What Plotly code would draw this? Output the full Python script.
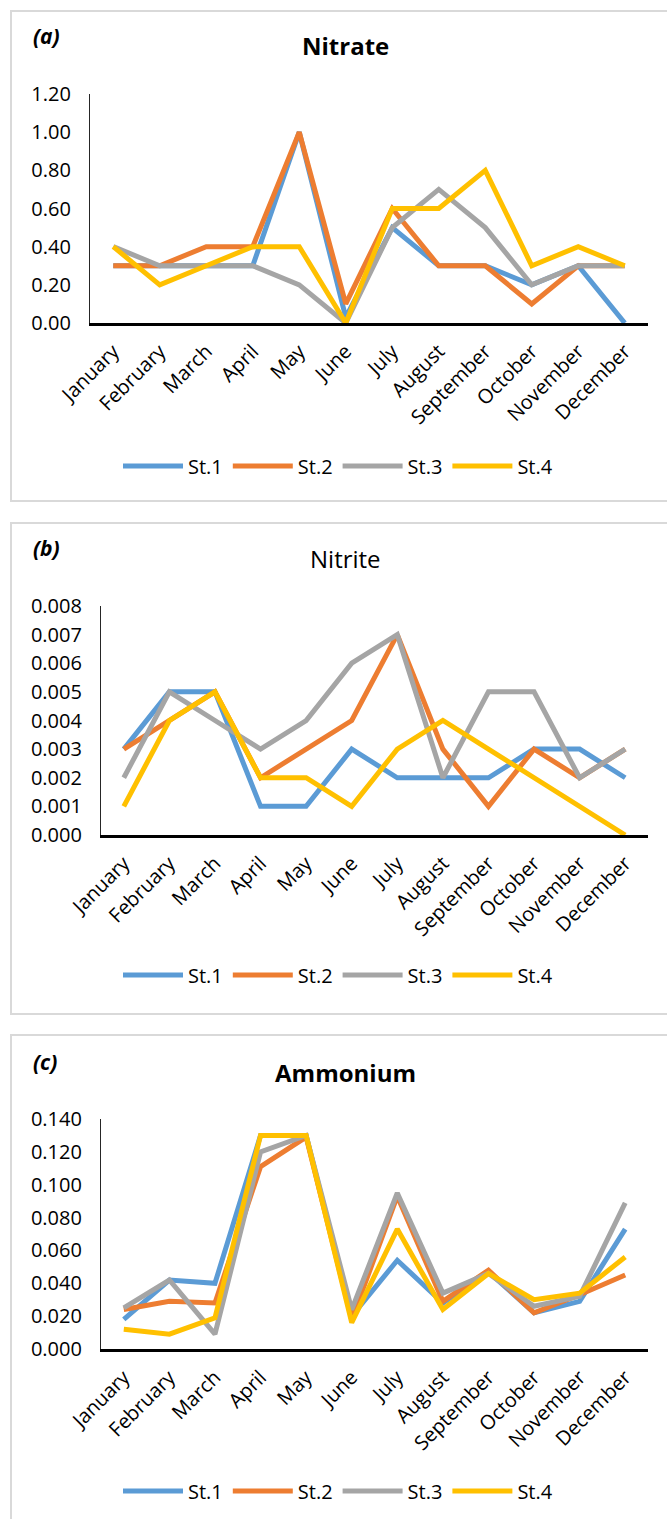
import plotly.graph_objects as go

W, H = 667, 1519

months = ["January", "February", "March", "April", "May", "June", "July",
          "August", "September", "October", "November", "December"]
stations = ["St.1", "St.2", "St.3", "St.4"]
colors = ["#5B9BD5", "#ED7D31", "#A5A5A5", "#FFC000"]

nitrate_st1 = [0.30, 0.30, 0.30, 0.30, 1.00, 0.03, 0.50, 0.30, 0.30, 0.20, 0.30, 0.00]
nitrate_st2 = [0.30, 0.30, 0.40, 0.40, 1.00, 0.10, 0.60, 0.30, 0.30, 0.10, 0.30, 0.30]
nitrate_st3 = [0.40, 0.30, 0.30, 0.30, 0.20, 0.00, 0.50, 0.70, 0.50, 0.20, 0.30, 0.30]
nitrate_st4 = [0.40, 0.20, 0.30, 0.40, 0.40, 0.00, 0.60, 0.60, 0.80, 0.30, 0.40, 0.30]

nitrite_st1 = [0.003, 0.005, 0.005, 0.001, 0.001, 0.003, 0.002, 0.002, 0.002, 0.003, 0.003, 0.002]
nitrite_st2 = [0.003, 0.004, 0.005, 0.002, 0.003, 0.004, 0.007, 0.003, 0.001, 0.003, 0.002, 0.003]
nitrite_st3 = [0.002, 0.005, 0.004, 0.003, 0.004, 0.006, 0.007, 0.002, 0.005, 0.005, 0.002, 0.003]
nitrite_st4 = [0.001, 0.004, 0.005, 0.002, 0.002, 0.001, 0.003, 0.004, 0.003, 0.002, 0.001, 0.000]

ammonium_st1 = [0.018, 0.042, 0.040, 0.130, 0.130, 0.020, 0.054, 0.028, 0.047, 0.022, 0.029, 0.073]
ammonium_st2 = [0.024, 0.029, 0.028, 0.111, 0.129, 0.018, 0.093, 0.029, 0.048, 0.022, 0.033, 0.045]
ammonium_st3 = [0.025, 0.042, 0.009, 0.120, 0.130, 0.024, 0.095, 0.034, 0.046, 0.026, 0.032, 0.089]
ammonium_st4 = [0.012, 0.009, 0.019, 0.130, 0.130, 0.016, 0.073, 0.024, 0.046, 0.030, 0.034, 0.056]

panels = [
    dict(name="Nitrate", label="(a)", bold=True,
         series=[nitrate_st1, nitrate_st2, nitrate_st3, nitrate_st4],
         yrange=[0, 1.2], dtick=0.2, fmt=".2f",
         box=(11, 11, 501), plot=(90, 648, 94, 323), title_y=46, label_y=36, legend_y=466),
    dict(name="Nitrite", label="(b)", bold=False,
         series=[nitrite_st1, nitrite_st2, nitrite_st3, nitrite_st4],
         yrange=[0, 0.008], dtick=0.001, fmt=".3f",
         box=(11, 523, 1014), plot=(101, 648, 606, 835), title_y=558, label_y=548, legend_y=975),
    dict(name="Ammonium", label="(c)", bold=True,
         series=[ammonium_st1, ammonium_st2, ammonium_st3, ammonium_st4],
         yrange=[0, 0.14], dtick=0.02, fmt=".3f",
         box=(11, 1035, 1530), plot=(101, 648, 1119, 1349), title_y=1072, label_y=1062, legend_y=1491),
]

FONT = "Open Sans, Noto Sans, sans-serif"

def px(x):
    return x / W

def py(y):
    return 1 - y / H

fig = go.Figure()
shapes = []
annotations = []
layout = {}

for i, p in enumerate(panels):
    k = "" if i == 0 else str(i + 1)
    legname = "legend" + k
    for s, vals in enumerate(p["series"]):
        fig.add_trace(go.Scatter(
            x=months, y=vals, mode="lines", name=stations[s],
            line=dict(color=colors[s], width=5),
            xaxis="x" + k, yaxis="y" + k, legend=legname,
        ))
    x0, x1, y0, y1 = p["plot"]
    layout["xaxis" + k] = dict(
        domain=[px(x0), px(x1)], anchor="y" + k, type="category",
        range=[-0.5, 11.5], showline=True, linecolor="#000000", linewidth=2.5,
        showgrid=False, zeroline=False, tickangle=-45, ticks="",
        tickfont=dict(family=FONT, size=20, color="#000000"),
        ticklabelstandoff=6, automargin=False, fixedrange=True,
    )
    layout["yaxis" + k] = dict(
        domain=[py(y1), py(y0)], anchor="x" + k, range=p["yrange"],
        dtick=p["dtick"], tick0=0, tickformat=p["fmt"], showline=True,
        linecolor="#262626", linewidth=1.2, showgrid=False, zeroline=False,
        ticks="", tickfont=dict(family=FONT, size=20, color="#000000"),
        ticklabelstandoff=14, automargin=False, fixedrange=True,
    )
    layout[legname] = dict(
        orientation="h", x=px(118), xanchor="left", y=py(p["legend_y"]),
        yanchor="middle", font=dict(family=FONT, size=20, color="#000000"),
        bgcolor="rgba(0,0,0,0)", itemwidth=60,
        itemclick=False, itemdoubleclick=False,
    )
    bx, by0, by1 = p["box"]
    shapes.append(dict(type="rect", xref="paper", yref="paper",
                       x0=px(bx), x1=px(bx) + 2, y0=py(by1), y1=py(by0),
                       line=dict(color="#D9D9D9", width=2), fillcolor="rgba(0,0,0,0)"))
    title_txt = "<b>%s</b>" % p["name"] if p["bold"] else p["name"]
    annotations.append(dict(text=title_txt, xref="paper", yref="paper",
                            x=px(345), y=py(p["title_y"]), xanchor="center", yanchor="middle",
                            showarrow=False, font=dict(family=FONT, size=24, color="#000000")))
    annotations.append(dict(text="<b><i>%s</i></b>" % p["label"], xref="paper", yref="paper",
                            x=px(31), y=py(p["label_y"]), xanchor="left", yanchor="middle",
                            showarrow=False, font=dict(family=FONT, size=21, color="#000000")))

fig.update_layout(
    width=W, height=H, margin=dict(l=0, r=0, t=0, b=0, autoexpand=False),
    paper_bgcolor="#FFFFFF", plot_bgcolor="rgba(0,0,0,0)",
    shapes=shapes, annotations=annotations, showlegend=True, **layout,
)

fig.write_html("out.html")
